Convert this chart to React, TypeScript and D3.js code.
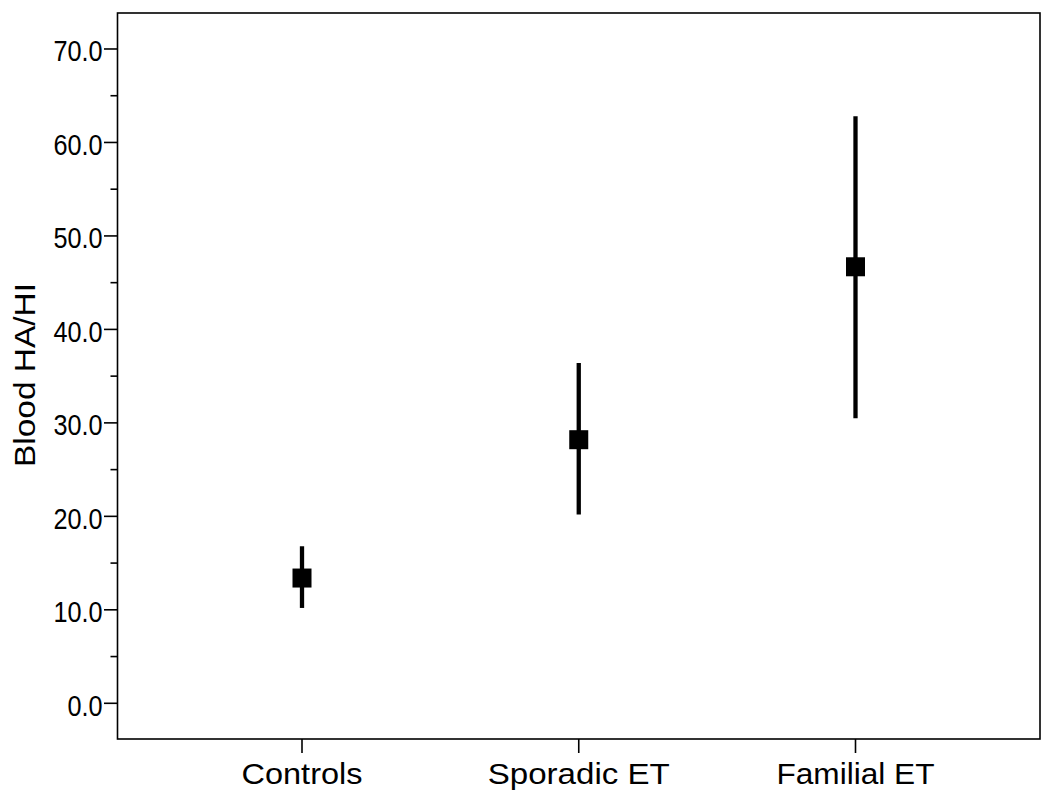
import React from 'react';
import * as d3 from 'd3';

// group means with upper / lower error bar ends
const groups = ['Controls', 'Sporadic ET', 'Familial ET'];
const means = [13.4, 28.2, 46.7];
const upper = [16.8, 36.4, 62.8];
const lower = [10.2, 20.2, 30.5];

const majorTicks = [0, 10, 20, 30, 40, 50, 60, 70];
const minorTicks = [5, 15, 25, 35, 45, 55, 65];

const W = 1050;
const H = 803;
const frame = { left: 117.5, right: 1040, top: 13, bottom: 739 };

// the reference lettering is a little wider/narrower than Liberation Sans
const groupLabelLen = [121, 182, 158];

const App = () => {
  const y = d3.scaleLinear().domain([-3.82, 73.85]).range([frame.bottom, frame.top]);
  const x = d3
    .scalePoint<string>()
    .domain(groups)
    .range([frame.left, frame.right])
    .padding(2 / 3);

  const font = '"Liberation Sans", Arial, sans-serif';

  return (
    <svg width={W} height={H} style={{ position: 'absolute', left: 0, top: 0 }}>
      <rect x={0} y={0} width={W} height={H} fill="#fff" />
      <rect
        x={frame.left}
        y={frame.top}
        width={frame.right - frame.left}
        height={frame.bottom - frame.top}
        fill="none"
        stroke="#000"
        strokeWidth={1.6}
      />

      {/* y axis */}
      {majorTicks.map((t) => (
        <g key={'M' + t}>
          <line x1={frame.left - 13.5} x2={frame.left} y1={y(t)} y2={y(t)} stroke="#000" strokeWidth={1.6} />
          <text
            transform={`translate(${frame.left - 15},${y(t) + 4.7}) scale(0.87,1)`}
            textAnchor="end"
            dominantBaseline="middle"
            fontFamily={font}
            fontSize={29}
          >
            {d3.format('.1f')(t)}
          </text>
        </g>
      ))}
      {minorTicks.map((t) => (
        <line key={'m' + t} x1={frame.left - 7} x2={frame.left} y1={y(t)} y2={y(t)} stroke="#000" strokeWidth={1.6} />
      ))}
      <text
        transform={`translate(35,375) rotate(-90)`}
        textAnchor="middle"
        fontFamily={font}
        fontSize={30}
        textLength={184}
        lengthAdjust="spacingAndGlyphs"
      >
        Blood HA/HI
      </text>

      {/* x axis */}
      {groups.map((g, i) => (
        <g key={g}>
          <line x1={x(g)} x2={x(g)} y1={frame.bottom} y2={frame.bottom + 14} stroke="#000" strokeWidth={1.6} />
          <text
            x={x(g)}
            y={784}
            textAnchor="middle"
            fontFamily={font}
            fontSize={30}
            textLength={groupLabelLen[i]}
            lengthAdjust="spacingAndGlyphs"
          >
            {g}
          </text>
        </g>
      ))}

      {/* error bars and means */}
      {groups.map((g, i) => (
        <g key={'e' + g}>
          <line x1={x(g)} x2={x(g)} y1={y(upper[i])} y2={y(lower[i])} stroke="#000" strokeWidth={4.3} />
          <rect x={(x(g) as number) - 9.5} y={y(means[i]) - 9.5} width={19} height={19} fill="#000" />
        </g>
      ))}
    </svg>
  );
};

export default App;
